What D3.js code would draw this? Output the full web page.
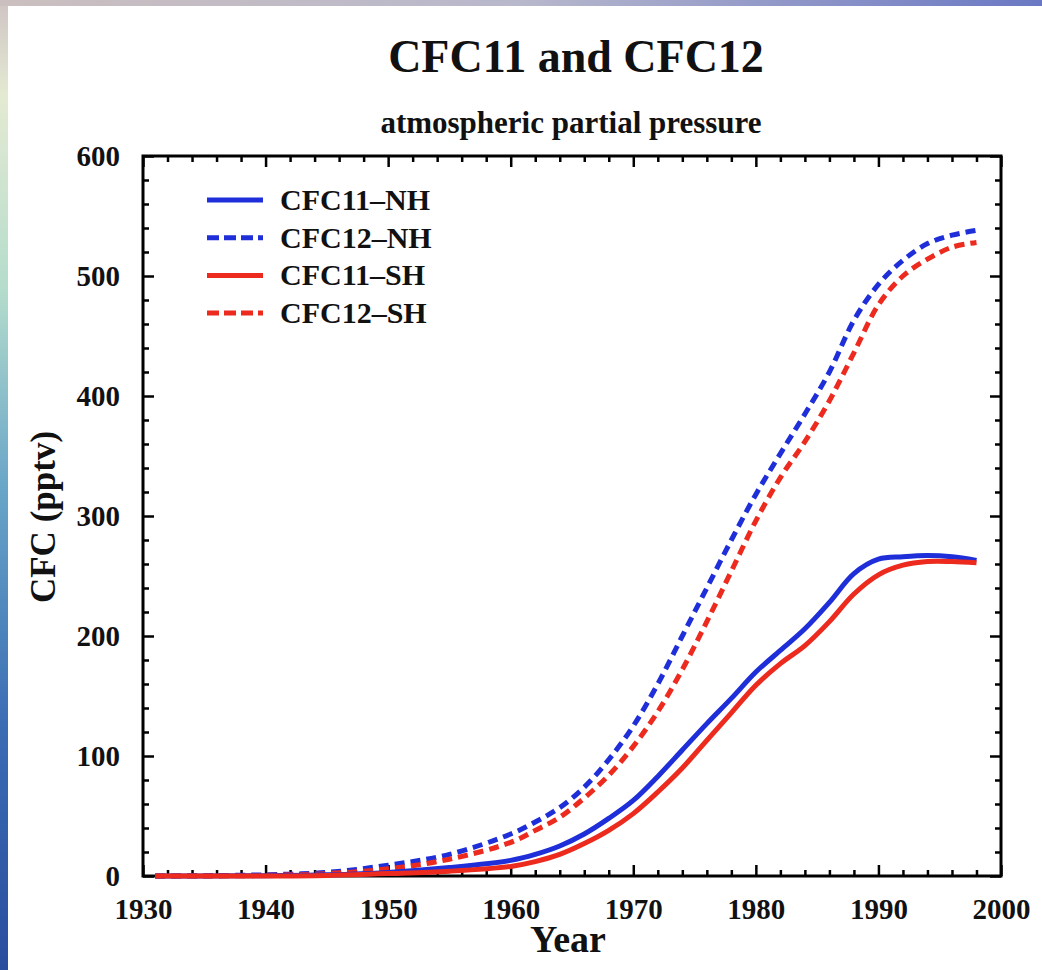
<!DOCTYPE html>
<html>
<head>
<meta charset="utf-8">
<style>
body { margin: 0; background: #fff; }
svg { display: block; }
.lbl { font-family: "Liberation Serif", "Times New Roman", serif; font-weight: bold; fill: #111; }
</style>
</head>
<body>
<svg id="chart" width="1042" height="970"></svg>
<script src="https://d3js.org/d3.v7.min.js"></script>
<script>

// data (pptv)
var years    = [1931, 1935, 1940, 1945, 1950, 1955, 1960, 1962, 1964, 1966, 1968, 1970, 1972, 1974, 1976, 1978, 1980, 1982, 1984, 1986, 1988, 1990, 1992, 1994, 1996, 1998];
var cfc11NH  = [0, 0, 0.3, 1, 3, 7, 13, 18, 25, 35, 48, 63, 83, 105, 127, 148, 170, 188, 206, 228, 252, 264, 266, 267, 266, 263];
var cfc12NH  = [0, 0.3, 1, 3, 9, 18, 35, 45, 57, 74, 97, 125, 160, 200, 240, 280, 318, 352, 385, 420, 463, 493, 513, 527, 534, 538];
var cfc11SH  = [0, 0, 0, 0.5, 2, 4, 8, 12, 18, 27, 38, 52, 70, 90, 113, 136, 159, 177, 192, 212, 235, 251, 259, 262, 262, 261];
var cfc12SH  = [0, 0, 0.5, 2, 6, 14, 28, 38, 49, 65, 84, 108, 137, 172, 212, 254, 296, 332, 362, 396, 436, 476, 500, 514, 524, 528];

var seriesNames = ["CFC11\u2013NH", "CFC12\u2013NH", "CFC11\u2013SH", "CFC12\u2013SH"];
var seriesVals  = [cfc11NH, cfc12NH, cfc11SH, cfc12SH];
var seriesColor = ["#1e2ed8", "#1e2ed8", "#ec2a1e", "#ec2a1e"];
var seriesDash  = [null, "10,6", null, "10,6"];

var xMajor = [1930, 1940, 1950, 1960, 1970, 1980, 1990, 2000];
var yMajor = [0, 100, 200, 300, 400, 500, 600];

var svg = d3.select("#chart");
var W = 1042, H = 970;
var pLeft = 143, pRight = 1001, pTop = 156, pBottom = 876;

// slide background edges
var defs = svg.append("defs");
var gl = defs.append("linearGradient").attr("id", "edgeL").attr("x1", 0).attr("y1", 0).attr("x2", 0).attr("y2", 1);
[["0", "#cfc4c4"], ["0.1", "#e4ead2"], ["0.3", "#b4dccc"], ["0.5", "#6aa6c8"], ["0.75", "#3a6cb4"], ["1", "#2a4e9e"]].forEach(function(s) {
  gl.append("stop").attr("offset", s[0]).attr("stop-color", s[1]);
});
var gt = defs.append("linearGradient").attr("id", "edgeT").attr("x1", 0).attr("y1", 0).attr("x2", 1).attr("y2", 0);
[["0", "#cbbfbf"], ["0.5", "#b8b8cc"], ["1", "#6a78c4"]].forEach(function(s) {
  gt.append("stop").attr("offset", s[0]).attr("stop-color", s[1]);
});
svg.append("rect").attr("x", 0).attr("y", 0).attr("width", 8).attr("height", H).attr("fill", "url(#edgeL)");
svg.append("rect").attr("x", 0).attr("y", 0).attr("width", W).attr("height", 6).attr("fill", "url(#edgeT)");

var x = d3.scaleLinear().domain([1930, 2000]).range([pLeft, pRight]);
var y = d3.scaleLinear().domain([0, 600]).range([pBottom, pTop]);

var xMinor = d3.range(1930, 2001, 2).filter(function(v) { return v % 10 != 0; });
var yMinor = d3.range(0, 601, 20).filter(function(v) { return v % 100 != 0; });

function styleAxis(g) {
  g.select(".domain").remove();
  g.selectAll(".tick line").attr("stroke", "#000").attr("stroke-width", 2.5);
  g.selectAll("text").attr("class", "lbl").style("font-size", "29px").attr("fill", "#111");
}

// bottom
svg.append("g").attr("transform", "translate(0," + pBottom + ")")
  .call(d3.axisBottom(x).tickValues(xMajor).tickFormat(d3.format("d")).tickSizeInner(-11).tickPadding(22))
  .call(styleAxis);
svg.append("g").attr("transform", "translate(0," + pBottom + ")")
  .call(d3.axisBottom(x).tickValues(xMinor).tickFormat("").tickSizeInner(-6))
  .call(styleAxis);
// top
svg.append("g").attr("transform", "translate(0," + pTop + ")")
  .call(d3.axisTop(x).tickValues(xMajor).tickFormat("").tickSizeInner(-11))
  .call(styleAxis);
svg.append("g").attr("transform", "translate(0," + pTop + ")")
  .call(d3.axisTop(x).tickValues(xMinor).tickFormat("").tickSizeInner(-6))
  .call(styleAxis);
// left
svg.append("g").attr("transform", "translate(" + pLeft + ",0)")
  .call(d3.axisLeft(y).tickValues(yMajor).tickFormat(d3.format("d")).tickSizeInner(-11).tickPadding(23))
  .call(styleAxis);
svg.append("g").attr("transform", "translate(" + pLeft + ",0)")
  .call(d3.axisLeft(y).tickValues(yMinor).tickFormat("").tickSizeInner(-6))
  .call(styleAxis);
// right
svg.append("g").attr("transform", "translate(" + pRight + ",0)")
  .call(d3.axisRight(y).tickValues(yMajor).tickFormat("").tickSizeInner(-11))
  .call(styleAxis);
svg.append("g").attr("transform", "translate(" + pRight + ",0)")
  .call(d3.axisRight(y).tickValues(yMinor).tickFormat("").tickSizeInner(-6))
  .call(styleAxis);

// frame
svg.append("rect")
  .attr("x", pLeft).attr("y", pTop)
  .attr("width", pRight - pLeft).attr("height", pBottom - pTop)
  .attr("fill", "none").attr("stroke", "#000").attr("stroke-width", 3);

// lines
var line = d3.line()
  .x(function(d) { return x(d[0]); })
  .y(function(d) { return y(d[1]); })
  .curve(d3.curveCatmullRom.alpha(0.5));

// dashed first, then solid; red drawn over blue near the bottom like the source
[1, 3, 0, 2].forEach(function(i) {
  var pts = years.map(function(yr, k) { return [yr, seriesVals[i][k]]; });
  svg.append("path")
    .datum(pts)
    .attr("d", line)
    .attr("fill", "none")
    .attr("stroke", seriesColor[i])
    .attr("stroke-width", 5)
    .attr("stroke-dasharray", seriesDash[i]);
});

// legend
var leg = svg.append("g");
seriesNames.forEach(function(name, i) {
  var ly = 200 + i * 37.7;
  leg.append("line")
    .attr("x1", 207).attr("x2", 263)
    .attr("y1", ly).attr("y2", ly)
    .attr("stroke", seriesColor[i])
    .attr("stroke-width", 5)
    .attr("stroke-dasharray", seriesDash[i] ? "12,5" : null);
  leg.append("text")
    .attr("class", "lbl")
    .attr("x", 280).attr("y", ly + 10)
    .style("font-size", "30px")
    .text(name);
});

// titles
svg.append("text").attr("class", "lbl")
  .attr("x", 576).attr("y", 72)
  .attr("text-anchor", "middle")
  .style("font-size", "46px")
  .text("CFC11 and CFC12");

svg.append("text").attr("class", "lbl")
  .attr("x", 571).attr("y", 133)
  .attr("text-anchor", "middle")
  .style("font-size", "31px")
  .text("atmospheric partial pressure");

svg.append("text").attr("class", "lbl")
  .attr("x", 568).attr("y", 952)
  .attr("text-anchor", "middle")
  .style("font-size", "38px")
  .text("Year");

svg.append("text").attr("class", "lbl")
  .attr("transform", "translate(55,517) rotate(-90)")
  .attr("text-anchor", "middle")
  .style("font-size", "35px")
  .text("CFC (pptv)");

</script>
</body>
</html>
